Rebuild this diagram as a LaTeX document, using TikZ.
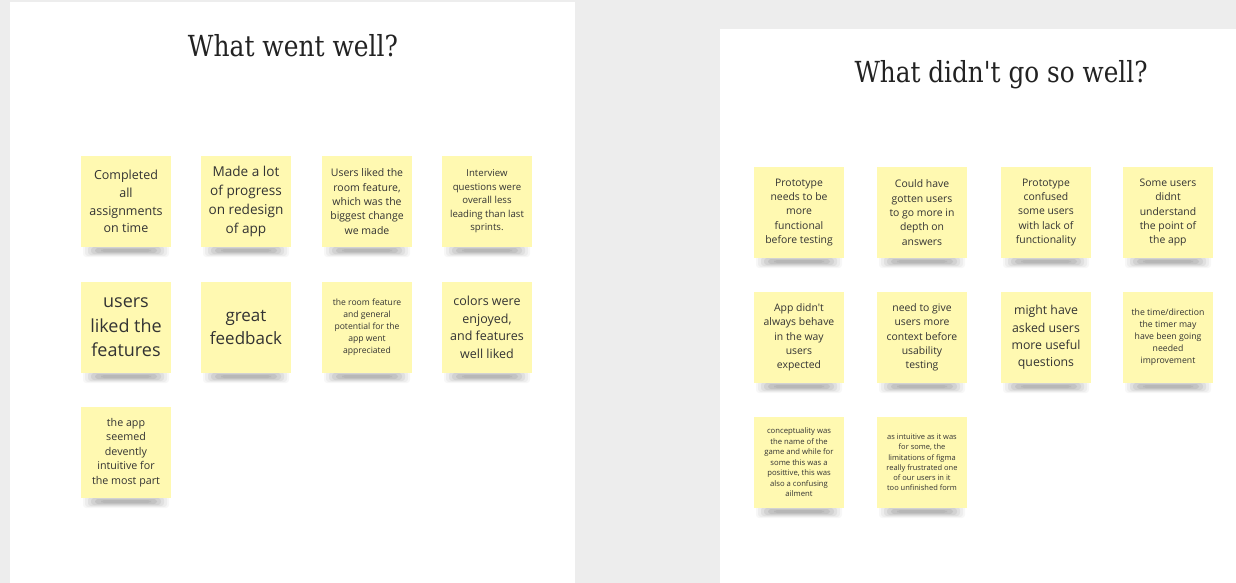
\documentclass[tikz,border=0pt]{standalone}
\usepackage{fontspec}
\usepackage{graphicx}
\setmainfont{Open Sans}
\newfontfamily\titlefont{DejaVu Serif}
\definecolor{bggrey}{HTML}{EDEDED}
\definecolor{noteyellow}{HTML}{FFF9B1}
\definecolor{notetext}{HTML}{333333}
\definecolor{titletext}{HTML}{222222}
\tikzset{
  panel/.style={fill=white, draw=none},
  note/.style={fill=noteyellow, draw=none, minimum width=90pt, minimum height=91pt,
    inner sep=0pt, align=center, text=notetext},
  shadowlayer/.style={fill=black, opacity=#1, rounded corners=3pt},
  titlenode/.style={inner sep=0pt, text=titletext, font=\titlefont\fontsize{29}{34}\selectfont},
}
\newcommand\sticky[6]{%
  \fill[shadowlayer=0.03] ({#2+2},{#3+88}) rectangle ({#2+88},{#3+101});
  \fill[shadowlayer=0.04] ({#2+4},{#3+89}) rectangle ({#2+86},{#3+100});
  \fill[shadowlayer=0.05] ({#2+7},{#3+90}) rectangle ({#2+83},{#3+99});
  \fill[shadowlayer=0.06] ({#2+10},{#3+91}) rectangle ({#2+80},{#3+98});
  \fill[shadowlayer=0.07] ({#2+14},{#3+92}) rectangle ({#2+76},{#3+97});
  \fill[shadowlayer=0.06] ({#2+20},{#3+93}) rectangle ({#2+70},{#3+96});
  \node[note, font=\fontsize{#4}{#5}\selectfont] (#1) at ({#2+45},{#3+45.5}) {#6};
}
\begin{document}
\begin{tikzpicture}[x=1pt, y=-1pt]
\useasboundingbox (0,0) rectangle (1236,583);
\fill[bggrey] (0,0) rectangle (1236,583);
\fill[panel] (10,2) rectangle (575,583);
\fill[panel] (720,29) rectangle (1236,583);

\node[titlenode] (t1) at (293,46) {\resizebox{210pt}{\height}{What went well?}};
\node[titlenode] (t2) at (1001,75) {\resizebox{293pt}{\height}{What didn\textquotesingle t go so well?}};

% left panel
\sticky{l1}{81}{156}{12.5}{17.7}{Completed\\all\\assignments\\on time}
\sticky{l2}{201}{156}{13.6}{19}{Made a lot\\of progress\\on redesign\\of app}
\sticky{l3}{322}{156}{10.5}{14.3}{Users liked the\\room feature,\\which was the\\biggest change\\we made}
\sticky{l4}{442}{156}{9.6}{13.5}{Interview\\questions were\\overall less\\leading than last\\sprints.}
\sticky{l5}{81}{282}{18}{24.5}{users\\liked the\\features}
\sticky{l6}{201}{282}{17}{23.5}{great\\feedback}
\sticky{l7}{322}{282}{8.6}{12}{the room feature\\and general\\potential for the\\app went\\appreciated}
\sticky{l8}{442}{282}{12.5}{17.5}{colors were\\enjoyed,\\and features\\well liked}
\sticky{l9}{81}{407}{10.7}{14.4}{the app\\seemed\\devently\\intuitive for\\the most part}

% right panel
\sticky{r1}{754}{167}{10.4}{14.3}{Prototype\\needs to be\\more\\functional\\before testing}
\sticky{r2}{877}{167}{10.4}{14.3}{Could have\\gotten users\\to go more in\\depth on\\answers}
\sticky{r3}{1001}{167}{10.4}{14.3}{Prototype\\confused\\some users\\with lack of\\functionality}
\sticky{r4}{1123}{167}{10.4}{14.3}{Some users\\didnt\\understand\\the point of\\the app}
\sticky{r5}{754}{292}{10.4}{14.3}{App didn\textquotesingle t\\always behave\\in the way\\users\\expected}
\sticky{r6}{877}{292}{10.4}{14.3}{need to give\\users more\\context before\\usability\\testing}
\sticky{r7}{1001}{292}{12.3}{17.3}{might have\\asked users\\more useful\\questions}
\sticky{r8}{1123}{292}{8.7}{12}{the time/direction\\the timer may\\have been going\\needed\\improvement}
\sticky{r9}{754}{417}{7.7}{10.5}{conceptuality was\\the name of the\\game and while for\\some this was a\\posittive, this was\\also a confusing\\ailment}
\sticky{r10}{877}{417}{7.5}{10.3}{as intuitive as it was\\for some, the\\limitations of figma\\really frustrated one\\of our users in it\\too unfinished form}
\end{tikzpicture}
\end{document}
